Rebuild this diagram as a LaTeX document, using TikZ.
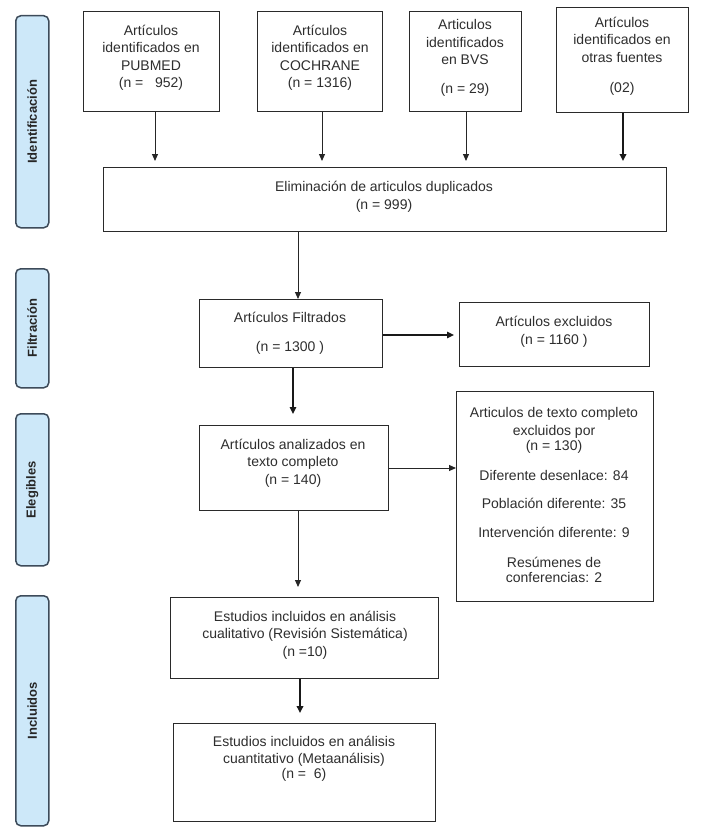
\documentclass[tikz,border=0pt]{standalone}
\usepackage{fontspec}
\setmainfont{Liberation Sans}
\usetikzlibrary{arrows.meta}
\definecolor{boxline}{HTML}{2A2A2A}
\definecolor{txt}{HTML}{2E2E2E}
\definecolor{phasefill}{HTML}{CDE8F9}
\definecolor{phaseline}{HTML}{3D4B5A}
\begin{document}
\begin{tikzpicture}[x=1pt,y=-1pt,
  box/.style={draw=boxline,line width=1.3pt,rectangle,inner sep=0pt,anchor=north west},
  txtnode/.style={align=center,text=txt,font=\fontsize{14}{17.5}\selectfont,inner sep=0pt},
  phase/.style={draw=phaseline,fill=phasefill,line width=1.5pt,rounded corners=5pt,anchor=north west,inner sep=0pt},
  phasetxt/.style={rotate=90,font=\fontsize{13}{15}\selectfont\bfseries,text=black!85},
  arr/.style={draw=black!85,line width=1pt,-{Triangle[length=7pt,width=6pt]}},
  arrthick/.style={draw=black!90,line width=1.8pt,-{Triangle[length=7pt,width=6.5pt]}}]
\path[use as bounding box,fill=white] (0,0) rectangle (708,832);

% phase labels
\node[phase,minimum width=33pt,minimum height=212pt] (pid) at (15,15) {};
\node[phasetxt] (tid) at (pid.center) {Identificación};
\node[phase,minimum width=33pt,minimum height=119pt] (pfi) at (15,268) {};
\node[phasetxt] (tfi) at (pfi.center) {Filtración};
\node[phase,minimum width=33pt,minimum height=152pt] (pel) at (15,413) {};
\node[phasetxt] (tel) at (pel.center) {Elegibles};
\node[phase,minimum width=33pt,minimum height=230pt] (pin) at (15,595) {};
\node[phasetxt] (tin) at (pin.center) {Incluidos};

% boxes
\node[box,minimum width=136pt,minimum height=100pt] (pub) at (83,11) {};
\node[box,minimum width=125pt,minimum height=100pt] (coch) at (257,11) {};
\node[box,minimum width=112pt,minimum height=100pt] (bvs) at (409,11) {};
\node[box,minimum width=132pt,minimum height=105pt] (otr) at (556,7) {};
\node[box,minimum width=563pt,minimum height=64pt] (elim) at (103,167) {};
\node[box,minimum width=183pt,minimum height=68pt] (filt) at (199,299) {};
\node[box,minimum width=190pt,minimum height=64pt] (excl) at (459,302) {};
\node[box,minimum width=189pt,minimum height=85pt] (anal) at (199,425) {};
\node[box,minimum width=197pt,minimum height=210pt] (excl2) at (456,391) {};
\node[box,minimum width=268pt,minimum height=81pt] (cual) at (170,597) {};
\node[box,minimum width=262pt,minimum height=98pt] (cuant) at (173,723) {};

% texts
\node[txtnode] (tpub) at (151,58) {Artículos\\identificados en\\PUBMED\\(n =\ \ \ 952)};
\node[txtnode] (tcoch) at (320,58) {Artículos\\identificados en\\COCHRANE\\(n = 1316)};
\node[txtnode] (tbvs) at (465,58) {Articulos\\identificados\\en BVS\\[11.5pt](n = 29)};
\node[txtnode] (totr) at (622,56) {Artículos\\identificados en\\otras fuentes\\[12.5pt](02)};
\node[txtnode] (telim) at (384,197) {Eliminación de articulos duplicados\\(n = 999)};
\node[txtnode] (tfilt) at (290,333) {Artículos Filtrados\\[11.5pt](n = 1300 )};
\node[txtnode] (texcl) at (554,332) {Artículos excluidos\\(n = 1160 )};
\node[txtnode] (tanal) at (293,463) {Artículos analizados en\\texto completo\\(n = 140)};
\node[txtnode] (texcl2) at (554,495) {Articulos de texto completo\\excluidos por\\[-2.5pt](n = 130)\\[12.5pt]Diferente desenlace: 84\\[10.5pt]Población diferente: 35\\[11.5pt]Intervención diferente: 9\\[12.5pt]Resúmenes de\\[-2.5pt]conferencias: 2};
\node[txtnode] (tcual) at (305,635) {Estudios incluidos en análisis\\cualitativo (Revisión Sistemática)\\(n =10)};
\node[txtnode] (tcuant) at (304,759) {Estudios incluidos en análisis\\cuantitativo (Metaanálisis)\\[-2.5pt](n =\ \ 6)};

% connectors
\draw[arr,shorten >=6pt] (pub.south -| 155,0) -- (elim.north -| 155,0);
\draw[arr,shorten >=6pt] (coch.south -| 322,0) -- (elim.north -| 322,0);
\draw[arr,shorten >=6pt] (bvs.south -| 466,0) -- (elim.north -| 466,0);
\draw[arrthick,shorten >=6pt] (otr.south -| 623,0) -- (elim.north -| 623,0);
\draw[arr] (elim.south -| 298,0) -- (filt.north -| 298,0);
\draw[arrthick,line width=1.4pt] (filt.east |- 0,335) -- ([xshift=-5pt]excl.west |- 0,335);
\draw[arrthick,line width=1.5pt,shorten >=11pt] (filt.south -| 293,0) -- (anal.north -| 293,0);
\draw[arr] (anal.east |- 0,468) -- (excl2.west |- 0,468);
\draw[arr,shorten >=10pt] (anal.south -| 298,0) -- (cual.north -| 298,0);
\draw[arrthick,shorten >=10pt] (cual.south -| 300,0) -- (cuant.north -| 300,0);
\end{tikzpicture}
\end{document}
